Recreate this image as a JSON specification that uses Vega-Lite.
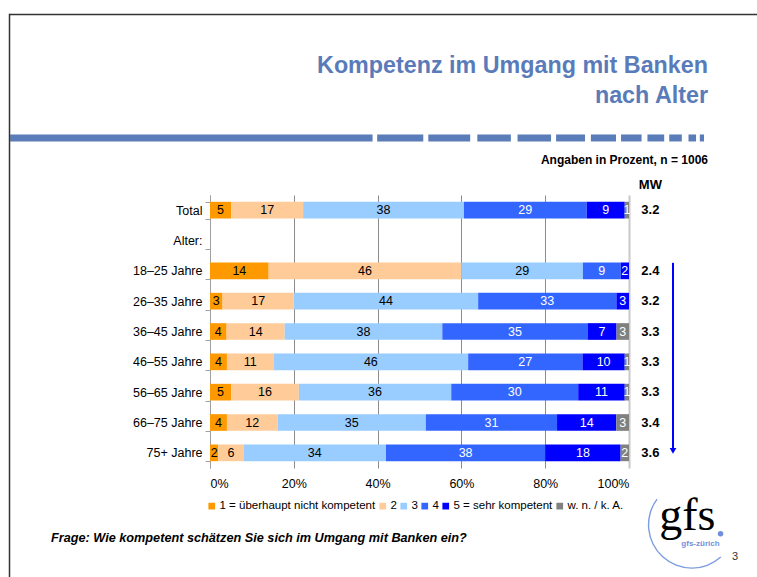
{
  "$schema": "https://vega.github.io/schema/vega-lite/v6.json",
  "width": 419,
  "height": 273,
  "autosize": {"type": "none"},
  "padding": {"left": 210, "top": 195, "right": 128, "bottom": 109},
  "background": "white",
  "config": {
    "view": {"stroke": null},
    "font": "Liberation Sans",
    "text": {"font": "Liberation Sans"}
  },
  "datasets": {
    "shares": [
      {"grp": "Total", "cat": "1 = überhaupt nicht kompetent", "k": 1, "pct": 5},
      {"grp": "Total", "cat": "2", "k": 2, "pct": 17},
      {"grp": "Total", "cat": "3", "k": 3, "pct": 38},
      {"grp": "Total", "cat": "4", "k": 4, "pct": 29},
      {"grp": "Total", "cat": "5 = sehr kompetent", "k": 5, "pct": 9},
      {"grp": "Total", "cat": "w. n. / k. A.", "k": 6, "pct": 1},
      {"grp": "18–25 Jahre", "cat": "1 = überhaupt nicht kompetent", "k": 1, "pct": 14},
      {"grp": "18–25 Jahre", "cat": "2", "k": 2, "pct": 46},
      {"grp": "18–25 Jahre", "cat": "3", "k": 3, "pct": 29},
      {"grp": "18–25 Jahre", "cat": "4", "k": 4, "pct": 9},
      {"grp": "18–25 Jahre", "cat": "5 = sehr kompetent", "k": 5, "pct": 2},
      {"grp": "26–35 Jahre", "cat": "1 = überhaupt nicht kompetent", "k": 1, "pct": 3},
      {"grp": "26–35 Jahre", "cat": "2", "k": 2, "pct": 17},
      {"grp": "26–35 Jahre", "cat": "3", "k": 3, "pct": 44},
      {"grp": "26–35 Jahre", "cat": "4", "k": 4, "pct": 33},
      {"grp": "26–35 Jahre", "cat": "5 = sehr kompetent", "k": 5, "pct": 3},
      {"grp": "36–45 Jahre", "cat": "1 = überhaupt nicht kompetent", "k": 1, "pct": 4},
      {"grp": "36–45 Jahre", "cat": "2", "k": 2, "pct": 14},
      {"grp": "36–45 Jahre", "cat": "3", "k": 3, "pct": 38},
      {"grp": "36–45 Jahre", "cat": "4", "k": 4, "pct": 35},
      {"grp": "36–45 Jahre", "cat": "5 = sehr kompetent", "k": 5, "pct": 7},
      {"grp": "36–45 Jahre", "cat": "w. n. / k. A.", "k": 6, "pct": 3},
      {"grp": "46–55 Jahre", "cat": "1 = überhaupt nicht kompetent", "k": 1, "pct": 4},
      {"grp": "46–55 Jahre", "cat": "2", "k": 2, "pct": 11},
      {"grp": "46–55 Jahre", "cat": "3", "k": 3, "pct": 46},
      {"grp": "46–55 Jahre", "cat": "4", "k": 4, "pct": 27},
      {"grp": "46–55 Jahre", "cat": "5 = sehr kompetent", "k": 5, "pct": 10},
      {"grp": "46–55 Jahre", "cat": "w. n. / k. A.", "k": 6, "pct": 1},
      {"grp": "56–65 Jahre", "cat": "1 = überhaupt nicht kompetent", "k": 1, "pct": 5},
      {"grp": "56–65 Jahre", "cat": "2", "k": 2, "pct": 16},
      {"grp": "56–65 Jahre", "cat": "3", "k": 3, "pct": 36},
      {"grp": "56–65 Jahre", "cat": "4", "k": 4, "pct": 30},
      {"grp": "56–65 Jahre", "cat": "5 = sehr kompetent", "k": 5, "pct": 11},
      {"grp": "56–65 Jahre", "cat": "w. n. / k. A.", "k": 6, "pct": 1},
      {"grp": "66–75 Jahre", "cat": "1 = überhaupt nicht kompetent", "k": 1, "pct": 4},
      {"grp": "66–75 Jahre", "cat": "2", "k": 2, "pct": 12},
      {"grp": "66–75 Jahre", "cat": "3", "k": 3, "pct": 35},
      {"grp": "66–75 Jahre", "cat": "4", "k": 4, "pct": 31},
      {"grp": "66–75 Jahre", "cat": "5 = sehr kompetent", "k": 5, "pct": 14},
      {"grp": "66–75 Jahre", "cat": "w. n. / k. A.", "k": 6, "pct": 3},
      {"grp": "75+ Jahre", "cat": "1 = überhaupt nicht kompetent", "k": 1, "pct": 2},
      {"grp": "75+ Jahre", "cat": "2", "k": 2, "pct": 6},
      {"grp": "75+ Jahre", "cat": "3", "k": 3, "pct": 34},
      {"grp": "75+ Jahre", "cat": "4", "k": 4, "pct": 38},
      {"grp": "75+ Jahre", "cat": "5 = sehr kompetent", "k": 5, "pct": 18},
      {"grp": "75+ Jahre", "cat": "w. n. / k. A.", "k": 6, "pct": 2}
    ],
    "mw": [
      {"grp": "Total", "mw": 3.2},
      {"grp": "18–25 Jahre", "mw": 2.4},
      {"grp": "26–35 Jahre", "mw": 3.2},
      {"grp": "36–45 Jahre", "mw": 3.3},
      {"grp": "46–55 Jahre", "mw": 3.3},
      {"grp": "56–65 Jahre", "mw": 3.3},
      {"grp": "66–75 Jahre", "mw": 3.4},
      {"grp": "75+ Jahre", "mw": 3.6}
    ],
    "dash": [
      {"a": -0.477, "b": 0.388},
      {"a": 0.399, "b": 0.509},
      {"a": 0.521, "b": 0.621},
      {"a": 0.638, "b": 0.718},
      {"a": 0.734, "b": 0.814},
      {"a": 0.826, "b": 0.895},
      {"a": 0.909, "b": 0.969},
      {"a": 0.981, "b": 1.030},
      {"a": 1.044, "b": 1.084},
      {"a": 1.096, "b": 1.126},
      {"a": 1.142, "b": 1.160},
      {"a": 1.169, "b": 1.179}
    ]
  },
  "layer": [
    {
      "data": {"name": "shares"},
      "mark": {"type": "bar"},
      "encoding": {
        "y": {
          "field": "grp",
          "type": "nominal",
          "title": null,
          "scale": {
            "domain": ["Total", "Alter:", "18–25 Jahre", "26–35 Jahre", "36–45 Jahre", "46–55 Jahre", "56–65 Jahre", "66–75 Jahre", "75+ Jahre"],
            "paddingInner": 0.45,
            "paddingOuter": 0.225
          },
          "axis": {
            "domainColor": "#A0A0A0",
            "tickColor": "#A0A0A0",
            "tickSize": 5,
            "tickBand": "extent",
            "labelFontSize": 12.5,
            "labelColor": "black",
            "labelPadding": 3,
            "grid": false
          }
        },
        "x": {
          "field": "pct",
          "type": "quantitative",
          "stack": "normalize",
          "title": null,
          "scale": {"domain": [0, 1], "nice": false},
          "axis": {
            "values": [0, 0.2, 0.4, 0.6, 0.8, 1],
            "format": ".0%",
            "grid": true,
            "gridColor": {"condition": {"test": "datum.value === 1", "value": "#C8C8C8"}, "value": "#8C8C8C"},
            "gridWidth": {"condition": {"test": "datum.value === 1", "value": 2}, "value": 1},
            "domain": false,
            "ticks": false,
            "tickSize": 0,
            "labelPadding": 9,
            "labelFontSize": 12.5,
            "labelColor": "black"
          }
        },
        "color": {
          "field": "cat",
          "type": "nominal",
          "scale": {
            "domain": ["1 = überhaupt nicht kompetent", "2", "3", "4", "5 = sehr kompetent", "w. n. / k. A."],
            "range": ["#FF9900", "#FFCC99", "#99CCFF", "#3366FF", "#0000FF", "#808080"]
          },
          "legend": {
            "title": null,
            "orient": "none",
            "legendX": -4,
            "legendY": 305,
            "direction": "horizontal",
            "symbolType": "square",
            "symbolSize": 45,
            "symbolStrokeWidth": 0,
            "labelFontSize": 11.5,
            "labelColor": "black",
            "labelOffset": 2,
            "columnPadding": 1
          }
        },
        "order": {"field": "k", "type": "quantitative"}
      }
    },
    {
      "data": {"name": "shares"},
      "mark": {"type": "text", "fontSize": 12.5},
      "encoding": {
        "y": {"field": "grp", "type": "nominal"},
        "x": {"field": "pct", "type": "quantitative", "stack": "normalize", "bandPosition": 0.5},
        "detail": {"field": "cat"},
        "order": {"field": "k", "type": "quantitative"},
        "text": {"field": "pct", "type": "quantitative"},
        "color": {"condition": {"test": "datum.k >= 4", "value": "white"}, "value": "black"}
      }
    },
    {
      "data": {"name": "mw"},
      "mark": {"type": "text", "fontSize": 13, "fontWeight": "bold", "color": "black"},
      "encoding": {
        "y": {"field": "grp", "type": "nominal"},
        "x": {"datum": 1.051},
        "text": {"field": "mw", "type": "quantitative", "format": ".1f"}
      }
    },
    {
      "data": {"values": [{}]},
      "mark": {"type": "text", "text": "MW", "fontSize": 13, "fontWeight": "bold", "color": "black", "yOffset": -25},
      "encoding": {"y": {"datum": "Total"}, "x": {"datum": 1.051}}
    },
    {
      "data": {"values": [{}]},
      "mark": {"type": "text", "text": ["Kompetenz im Umgang mit Banken", "nach Alter"], "fontSize": 23.3, "fontWeight": "bold", "lineHeight": 30, "align": "right", "baseline": "alphabetic", "color": "#5A7BBA", "yOffset": -137.2},
      "encoding": {"y": {"datum": "Total"}, "x": {"datum": 1.1885}}
    },
    {
      "data": {"name": "dash"},
      "mark": {"type": "rule", "strokeWidth": 7, "color": "#5A7DBA", "strokeCap": "butt", "yOffset": -72.2},
      "encoding": {"y": {"datum": "Total"}, "x": {"field": "a", "type": "quantitative"}, "x2": {"field": "b"}}
    },
    {
      "data": {"values": [{}]},
      "mark": {"type": "rule", "strokeWidth": 1.5, "color": "#333333", "yOffset": -195.7},
      "encoding": {"y": {"datum": "Total"}, "x": {"datum": -0.4785}, "x2": {"datum": 1.31}}
    },
    {
      "data": {"values": [{}]},
      "mark": {"type": "rule", "strokeWidth": 1.5, "color": "#333333", "yOffset": -196.4, "y2Offset": 130},
      "encoding": {"y": {"datum": "Total"}, "y2": {"datum": "75+ Jahre"}, "x": {"datum": -0.4785}}
    },
    {
      "data": {"values": [{}]},
      "mark": {"type": "text", "text": "Angaben in Prozent, n = 1006", "fontSize": 12, "fontWeight": "bold", "align": "right", "baseline": "middle", "color": "black", "yOffset": -50.2},
      "encoding": {"y": {"datum": "Total"}, "x": {"datum": 1.1885}}
    },
    {
      "data": {"values": [{}]},
      "mark": {"type": "rule", "strokeWidth": 2, "color": "#0000FF", "yOffset": -8, "y2Offset": -4},
      "encoding": {"y": {"datum": "18–25 Jahre"}, "y2": {"datum": "75+ Jahre"}, "x": {"datum": 1.105}}
    },
    {
      "data": {"values": [{}]},
      "mark": {"type": "point", "shape": "triangle-down", "filled": true, "size": 45, "color": "#0000FF", "opacity": 1, "yOffset": -2},
      "encoding": {"y": {"datum": "75+ Jahre"}, "x": {"datum": 1.105}}
    },
    {
      "data": {"values": [{}]},
      "mark": {"type": "text", "text": "Frage: Wie kompetent schätzen Sie sich im Umgang mit Banken ein?", "fontSize": 12.7, "fontWeight": "bold", "fontStyle": "italic", "align": "left", "baseline": "middle", "color": "black", "yOffset": 85.2},
      "encoding": {"y": {"datum": "75+ Jahre"}, "x": {"datum": -0.3795}}
    },
    {
      "data": {"values": [{}]},
      "mark": {"type": "arc", "radius": 44, "radius2": 42.6, "theta": 2.41, "theta2": 5.35, "color": "#7C9CE0", "yOffset": 72},
      "encoding": {"y": {"datum": "75+ Jahre"}, "x": {"datum": 1.15}}
    },
    {
      "data": {"values": [{}]},
      "mark": {"type": "text", "text": "gfs", "font": "Liberation Serif", "fontSize": 46, "align": "left", "baseline": "alphabetic", "color": "black", "yOffset": 77.2},
      "encoding": {"y": {"datum": "75+ Jahre"}, "x": {"datum": 1.072}}
    },
    {
      "data": {"values": [{}]},
      "mark": {"type": "point", "shape": "circle", "filled": true, "size": 30, "color": "#6F8FDB", "opacity": 1, "yOffset": 81},
      "encoding": {"y": {"datum": "75+ Jahre"}, "x": {"datum": 1.2185}}
    },
    {
      "data": {"values": [{}]},
      "mark": {"type": "text", "text": "gfs-zürich", "fontSize": 8, "fontWeight": "bold", "align": "center", "baseline": "middle", "color": "#7390D8", "yOffset": 91},
      "encoding": {"y": {"datum": "75+ Jahre"}, "x": {"datum": 1.1706}}
    },
    {
      "data": {"values": [{}]},
      "mark": {"type": "text", "text": "3", "fontSize": 11, "align": "center", "baseline": "middle", "color": "#333333", "yOffset": 104.2},
      "encoding": {"y": {"datum": "75+ Jahre"}, "x": {"datum": 1.253}}
    }
  ]
}
